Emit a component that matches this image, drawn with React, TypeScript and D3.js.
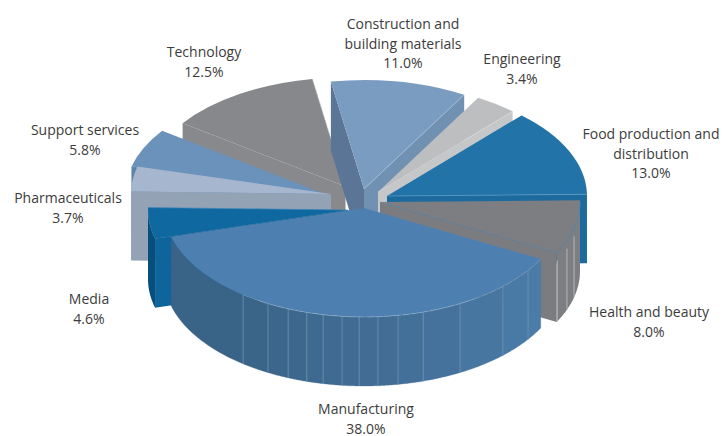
import React from "react";
import * as d3 from "d3";

// Sector shares, in drawing order around the pie (clockwise from Manufacturing).
const sectors = ["Manufacturing", "Media", "Pharmaceuticals", "Support services", "Technology", "Construction", "Engineering", "Food", "Health"];
const shares = [38.0, 4.6, 3.7, 5.8, 12.5, 11.0, 3.4, 13.0, 8.0];
const labelLines = [
  ["Manufacturing"],
  ["Media"],
  ["Pharmaceuticals"],
  ["Support services"],
  ["Technology"],
  ["Construction and", "building materials"],
  ["Engineering"],
  ["Food production and", "distribution"],
  ["Health and beauty"],
];

// Exploded wedge layout: each wedge's tip on the page.
const tipX = [364, 348, 331, 325, 345.5, 364, 378, 387, 380];
const tipY = [208, 210, 194, 194, 186.5, 189, 192, 196, 202];
const labelX = [366, 89, 68, 85, 204, 403, 522, 651, 649];
const labelY = [414, 304, 203, 135, 57, 29, 64, 139, 317];

// Wedge colours.
const topFill = ["#4d80b0", "#0f68a0", "#a6b6cf", "#6a92ba", "#87888c", "#7a9cc0", "#bdbec0", "#2273a8", "#7d7e82"];
const startFace = ["#3f6f99", "#0e659c", "#93a3b5", "#5c83a8", "#88898c", "#5a7595", "#aaaaad", "#1d6a9f", "#77787c"];
const endFace = ["#3f6f99", "#0e659c", "#93a3b5", "#5c83a8", "#88898c", "#7191b3", "#c6c7c9", "#1d6a9f", "#7b7c80"];
const rimFill = ["#3a6388", "#064f7c", "#93a3b5", "#5c83a8", "#88898c", "#7191b3", "#aaaaad", "#1d6a9f", "#7d7e82"];
const edgeStroke = ["none", "#3d86b8", "none", "none", "#b5b6b8", "#a8c0da", "#d8d9da", "#5b9ac6", "#5a8ab0"];

// Back-to-front painting order.
const paintOrder = [4, 3, 5, 6, 7, 2, 1, 8, 0];

// Facet seams on the outer walls, in degrees around the ellipse.
const manufacturingSeams = [127.2, 118.7, 112.3, 106.6, 101.8, 96.3, 91.4, 86, 80.2, 72.8, 61.3, 46, 34.9];
const healthSeams = [27.6, 20.8, 14];

const RX = 200;
const SQUASH = 0.545;
const DEPTH = 69;
const START_DEG = 117.9;

const pieLayout = d3
  .pie<number>()
  .sort(null)
  .startAngle((START_DEG * Math.PI) / 180)
  .endAngle((START_DEG * Math.PI) / 180 + 2 * Math.PI);

const arcs = pieLayout(shares);
const wedgeTop = d3.arc<d3.PieArcDatum<number>>().innerRadius(0).outerRadius(RX);

// Pie angle (0 = up, clockwise) to a point on the squashed ellipse.
const rim = (i: number, a: number, drop = 0): [number, number] => [
  tipX[i] + RX * Math.sin(a),
  tipY[i] - RX * SQUASH * Math.cos(a) + drop,
];
const toPieAngle = (deg: number) => ((deg + 90) * Math.PI) / 180;

const line = d3.line();
const sweep = (from: number, to: number, n = 24) => d3.range(n + 1).map((k) => from + ((to - from) * k) / n);

function wallPath(i: number, from: number, to: number) {
  const angles = sweep(from, to);
  const upper = angles.map((a) => rim(i, a));
  const lower = angles.slice().reverse().map((a) => rim(i, a, DEPTH));
  return line([...upper, ...lower]) + "Z";
}

function cutFace(i: number, a: number) {
  const tip: [number, number] = [tipX[i], tipY[i]];
  const tipLow: [number, number] = [tipX[i], tipY[i] + DEPTH];
  return line([tip, rim(i, a), rim(i, a, DEPTH), tipLow]) + "Z";
}

const wallShade = d3.scaleLinear<string>().domain([127, 30]).range(["#3a6388", "#4b7ca8"]).interpolate(d3.interpolateRgb);

function Wedge({ i }: { i: number }) {
  const d = arcs[i];
  const startVisible = Math.cos(d.startAngle - Math.PI / 2) < 0;
  const endVisible = Math.cos(d.endAngle - Math.PI / 2) > 0;
  const isMfg = i === 0;
  const isHealth = i === 8;
  const isMedia = i === 1;
  const seams = isMfg ? manufacturingSeams : isHealth ? healthSeams : [];
  let wall: React.ReactNode = null;
  if (isMfg) {
    const stops = [27.9, ...manufacturingSeams.slice().reverse(), 164.7];
    wall = stops.slice(0, -1).map((s, k) => {
      const shade = wallShade(Math.min((s + stops[k + 1]) / 2, 127));
      return <path key={k} d={wallPath(i, toPieAngle(s), toPieAngle(stops[k + 1]))} fill={shade} stroke={shade} strokeWidth={0.3} />;
    });
  } else if (isHealth) {
    wall = <path d={wallPath(i, toPieAngle(0), toPieAngle(27.9))} fill={rimFill[i]} />;
  } else if (isMedia) {
    // Only the part of this wedge's arc before the ellipse's left extreme faces the front.
    wall = <path d={wallPath(i, d.startAngle, toPieAngle(180))} fill={rimFill[i]} />;
  }
  return (
    <g>
      {startVisible && <path d={cutFace(i, d.startAngle)} fill={startFace[i]} />}
      {endVisible && <path d={cutFace(i, d.endAngle)} fill={endFace[i]} />}
      {wall}
      {seams.map((s) => {
        const a = toPieAngle(s);
        return <path key={s} d={line([rim(i, a, isHealth ? 8 : 0), rim(i, a, DEPTH)]) ?? ""} stroke={isMfg ? "#7e9cbc" : "#bcbdbf"} strokeWidth={isMfg ? 0.6 : 0.9} fill="none" />;
      })}
      <path
        d={wedgeTop(d) ?? ""}
        transform={`translate(${tipX[i]},${tipY[i]}) scale(1,${SQUASH})`}
        fill={topFill[i]}
      />
      {edgeStroke[i] !== "none" && (
        <path
          d={line([[tipX[i], tipY[i]], rim(i, d.endAngle)]) ?? ""}
          stroke={edgeStroke[i]}
          strokeWidth={0.7}
          strokeDasharray={i === 4 || i === 8 ? "3 1.5" : undefined}
          fill="none"
        />
      )}
      {isMfg && (
        <path
          d={line(sweep(toPieAngle(28), toPieAngle(122), 40).map((a) => rim(0, a))) ?? ""}
          stroke="#8fabc8"
          strokeWidth={0.6}
          strokeDasharray="8 1"
          fill="none"
        />
      )}
      {isHealth && (
        <path
          d={line(sweep(toPieAngle(0), toPieAngle(27.9), 16).map((a) => rim(8, a))) ?? ""}
          stroke="#5a8ab0"
          strokeWidth={0.7}
          fill="none"
        />
      )}
    </g>
  );
}

export default function App() {
  const pct = d3.format(".1f");
  return (
    <svg width={723} height={436} viewBox="0 0 723 436" style={{ position: "absolute", left: 0, top: 0, display: "block", background: "#fff" }}>
      {paintOrder.map((i) => (
        <Wedge key={sectors[i]} i={i} />
      ))}
      <g fontFamily="'Open Sans', sans-serif" fontSize={14} fill="#3c3c3c" textAnchor="middle">
        {sectors.map((name, i) => {
          const lines = [...labelLines[i], `${pct(shares[i])}%`];
          return (
            <text key={name} x={labelX[i]} y={labelY[i]}>
              {lines.map((t, k) => (
                <tspan key={k} x={labelX[i]} y={labelY[i] + k * 19.5}>
                  {t}
                </tspan>
              ))}
            </text>
          );
        })}
      </g>
    </svg>
  );
}
